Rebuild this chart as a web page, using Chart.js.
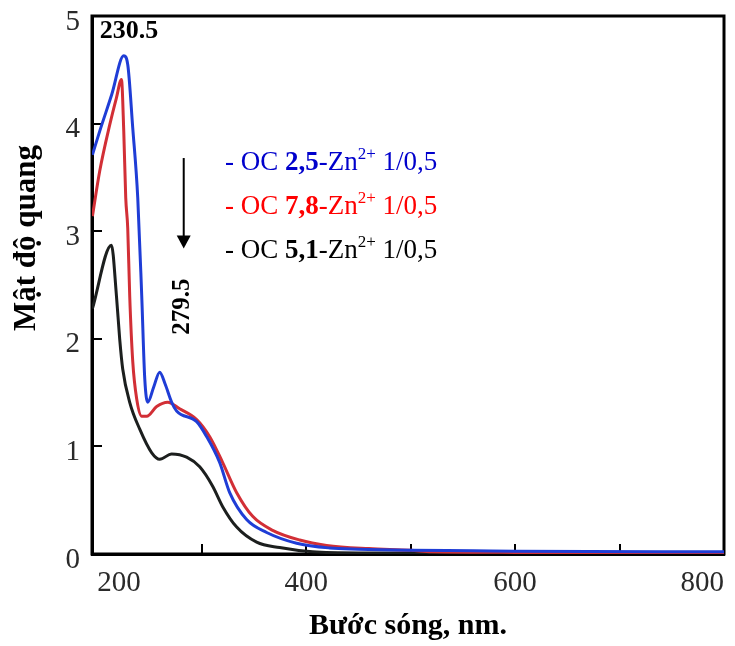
<!DOCTYPE html>
<html>
<head>
<meta charset="utf-8">
<script src="https://cdn.jsdelivr.net/npm/chart.js@4.4.1/dist/chart.umd.min.js"></script>
<style>
  html, body { margin: 0; padding: 0; background: #fff; }
</style>
</head>
<body>
<canvas id="uvChart" width="735" height="646"></canvas>
<script>
// wavelength (nm) / absorbance points
const blueX = [195.4, 202.4, 213.9, 225.4, 229.2, 234.0, 238.8, 242.6, 245.5, 248.4, 254.0, 259.8, 265.0, 271.3, 276.0, 295.2, 304.8, 317.2, 326.8, 343.0, 362.2, 390.9, 422.5, 450, 500, 560, 600, 800];
const blueY = [3.71, 3.93, 4.27, 4.63, 4.55, 3.96, 3.31, 2.40, 1.63, 1.41, 1.55, 1.69, 1.58, 1.41, 1.33, 1.23, 1.09, 0.85, 0.57, 0.32, 0.20, 0.10, 0.056, 0.045, 0.035, 0.03, 0.025, 0.02];

const redX = [195.4, 202.4, 212.0, 218.4, 223.2, 225.4, 227.3, 229.2, 231.1, 234.0, 237.8, 242.6, 247.4, 256.9, 267.5, 278.9, 295.2, 307.7, 320.1, 333.5, 348.8, 367.9, 393.8, 419.6, 460, 500, 520, 600, 800];
const redY = [3.14, 3.56, 3.99, 4.24, 4.41, 3.93, 3.31, 3.03, 2.40, 1.79, 1.44, 1.28, 1.28, 1.37, 1.41, 1.35, 1.25, 1.09, 0.85, 0.57, 0.35, 0.22, 0.13, 0.08, 0.05, 0.035, 0.02, 0.015, 0.01];

const blackX = [195.4, 213.6, 218.4, 221.5, 224.4, 231.1, 240.7, 252.2, 259.8, 271.3, 285.6, 298.1, 310.5, 320.1, 333.5, 352.6, 374.6, 406.2, 450, 800];
const blackY = [2.28, 2.87, 2.40, 2.00, 1.72, 1.41, 1.16, 0.94, 0.88, 0.93, 0.90, 0.81, 0.63, 0.44, 0.25, 0.11, 0.06, 0.02, 0.01, 0.01];

// legend entries (sample number shown in bold)
const seriesNames = ['2,5', '7,8', '5,1'];
const lineColors = ['#1f3dd6', '#d22f36', '#1c1f1e'];
const textColors = ['#0000cc', '#ff0000', '#000000'];

// axis ticks
const xTicks = [200, 300, 400, 500, 600, 700, 800];
const xTickLabels = ['200', '', '400', '', '600', '', '800'];
const yTicks = [0, 1, 2, 3, 4, 5];
const yTitle = 'Mật độ quang';

// peak labels and arrow
const peakLabel = { text: '230.5', x: 230.5, y: 4.86 };
const shoulderLabel = { text: '279.5', x: 281.3, y: 2.30 };
const arrow = { x: 282.8, yFrom: 3.68, yTo: 2.84 };

function toPoints(xs, ys) {
    return xs.map((x, i) => ({ x: x, y: ys[i] }));
}

const serif = "'Liberation Serif', 'Times New Roman', serif";

// black box around the plot area
const framePlugin = {
    id: 'frame',
    beforeDatasetsDraw(chart) {
        const { ctx, chartArea: a } = chart;
        ctx.save();
        ctx.strokeStyle = '#000';
        ctx.lineWidth = 3;
        ctx.strokeRect(a.left, a.top, a.right - a.left, a.bottom - a.top);
        ctx.restore();
    }
};

// text labels, arrow and the coloured legend
const notesPlugin = {
    id: 'notes',
    afterDatasetsDraw(chart) {
        const ctx = chart.ctx;
        const xs = chart.scales.x;
        const ys = chart.scales.y;
        ctx.save();
        ctx.fillStyle = '#000';
        ctx.textAlign = 'center';
        ctx.textBaseline = 'middle';

        // y axis title sits above the middle of the axis in the original
        ctx.save();
        ctx.translate(27, 238);
        ctx.rotate(-Math.PI / 2);
        ctx.font = 'bold 31px ' + serif;
        ctx.fillText(yTitle, 0, 0);
        ctx.restore();

        ctx.font = 'bold 26px ' + serif;
        ctx.fillText(peakLabel.text, xs.getPixelForValue(peakLabel.x), ys.getPixelForValue(peakLabel.y));

        ctx.save();
        ctx.translate(xs.getPixelForValue(shoulderLabel.x), ys.getPixelForValue(shoulderLabel.y));
        ctx.rotate(-Math.PI / 2);
        ctx.font = 'bold 25px ' + serif;
        ctx.fillText(shoulderLabel.text, 0, 0);
        ctx.restore();

        // arrow
        const ax = xs.getPixelForValue(arrow.x);
        const ay1 = ys.getPixelForValue(arrow.yFrom);
        const ay2 = ys.getPixelForValue(arrow.yTo);
        ctx.strokeStyle = '#000';
        ctx.lineWidth = 2;
        ctx.beginPath();
        ctx.moveTo(ax, ay1);
        ctx.lineTo(ax, ay2 - 10);
        ctx.stroke();
        ctx.beginPath();
        ctx.moveTo(ax - 7, ay2 - 13);
        ctx.lineTo(ax + 7, ay2 - 13);
        ctx.lineTo(ax, ay2);
        ctx.closePath();
        ctx.fill();

        // legend lines: "- OC <b>n</b>-Zn<sup>2+</sup> 1/0,5"
        ctx.textAlign = 'left';
        ctx.textBaseline = 'alphabetic';
        const left = 225;
        seriesNames.forEach((name, i) => {
            const base = 170 + i * 44;
            let x = left;
            const parts = [
                { t: '- OC ', f: '27px ' + serif, dy: 0 },
                { t: name, f: 'bold 27px ' + serif, dy: 0 },
                { t: '-Zn', f: '27px ' + serif, dy: 0 },
                { t: '2+', f: '17px ' + serif, dy: -11 },
                { t: ' 1/0,5', f: '27px ' + serif, dy: 0 }
            ];
            ctx.fillStyle = textColors[i];
            parts.forEach(p => {
                ctx.font = p.f;
                ctx.fillText(p.t, x, base + p.dy);
                x += ctx.measureText(p.t).width;
            });
        });
        ctx.restore();
    }
};

const datasets = [
    { data: toPoints(blueX, blueY), borderColor: lineColors[0] },
    { data: toPoints(redX, redY), borderColor: lineColors[1] },
    { data: toPoints(blackX, blackY), borderColor: lineColors[2] }
].map(d => Object.assign(d, {
    borderWidth: 3,
    pointRadius: 0,
    fill: false,
    cubicInterpolationMode: 'monotone'
}));

new Chart(document.getElementById('uvChart'), {
    type: 'line',
    data: { datasets: datasets },
    options: {
        responsive: false,
        animation: false,
        devicePixelRatio: 1,
        layout: { padding: { top: 16, right: 11, left: 0, bottom: 0 } },
        plugins: {
            legend: { display: false },
            tooltip: { enabled: false }
        },
        scales: {
            x: {
                type: 'linear',
                min: 195,
                max: 800,
                afterBuildTicks: scale => { scale.ticks = xTicks.map(v => ({ value: v })); },
                afterFit: scale => {
                    scale.height = 92;
                    scale.paddingLeft = 0;
                    scale.paddingRight = 0;
                },
                ticks: {
                    callback: (v, i) => xTickLabels[i],
                    font: { family: serif, size: 29 },
                    color: '#2a2a2a',
                    padding: 22,
                    align: 'inner',
                    maxRotation: 0,
                    autoSkip: false
                },
                grid: {
                    drawOnChartArea: false,
                    drawTicks: true,
                    tickLength: -10,
                    lineWidth: 2,
                    color: ctx => (ctx.tick && (ctx.tick.value === 200 || ctx.tick.value === 800)) ? 'rgba(0,0,0,0)' : '#000'
                },
                border: { color: '#000', width: 3 },
                title: {
                    display: true,
                    text: 'Bước sóng, nm.',
                    color: '#000',
                    font: { family: serif, size: 30, weight: 'bold', lineHeight: 1.2 },
                    padding: { top: 0, bottom: 2 }
                }
            },
            y: {
                min: 0,
                max: 5,
                afterBuildTicks: scale => { scale.ticks = yTicks.map(v => ({ value: v })); },
                afterFit: scale => {
                    scale.width = 92;
                    scale.paddingTop = 0;
                    scale.paddingBottom = 0;
                },
                ticks: {
                    font: { family: serif, size: 29 },
                    color: '#2a2a2a',
                    padding: 22,
                    labelOffset: 6
                },
                grid: {
                    drawOnChartArea: false,
                    drawTicks: true,
                    tickLength: -10,
                    lineWidth: 2,
                    color: ctx => (ctx.tick && (ctx.tick.value === 0 || ctx.tick.value === 5)) ? 'rgba(0,0,0,0)' : '#000'
                },
                border: { color: '#000', width: 3 }
            }
        }
    },
    plugins: [framePlugin, notesPlugin]
});
</script>
</body>
</html>
